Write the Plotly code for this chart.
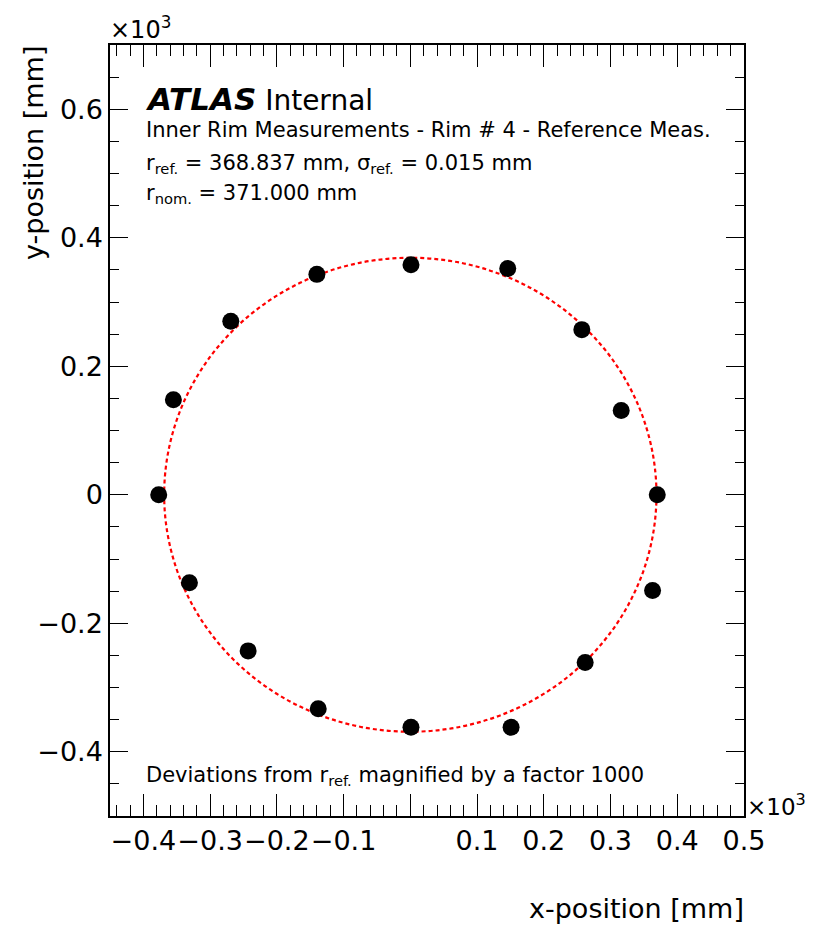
import plotly.graph_objects as go

# ---- data (mm) ----
x_pos = [370, 316, 257, 146, 1, -140, -269, -355, -377, -331, -243, -138, 1, 151, 262, 363]
y_pos = [0, 131, 257, 352, 358, 343, 270, 148, 0, -137, -243, -333, -362, -362, -261, -149]
r_ref = 368.837  # mm

x_tick_values = [-400, -300, -200, -100, 0, 100, 200, 300, 400, 500]
x_tick_labels = ["\u22120.4", "\u22120.3", "\u22120.2", "\u22120.1", "", "0.1", "0.2", "0.3", "0.4", "0.5"]
y_tick_values = [-400, -200, 0, 200, 400, 600]
y_tick_labels = ["\u22120.4", "\u22120.2", "0", "0.2", "0.4", "0.6"]

FONT = "DejaVu Sans"
W, H = 815, 927
L, R, T, B = 110, 71, 45, 111
PW, PH = W - L - R, H - T - B


def px_x(px):
    return (px - L) / PW


def px_y(py):
    return (H - B - py) / PH


fig = go.Figure()
fig.add_trace(go.Scatter(
    x=x_pos, y=y_pos, mode="markers",
    marker=dict(color="black", size=17, line=dict(width=0)),
    showlegend=False, hoverinfo="skip",
))

fig.add_shape(type="circle", xref="x", yref="y",
              x0=-r_ref, y0=-r_ref, x1=r_ref, y1=r_ref,
              line=dict(color="#ff0000", width=2.2, dash="4px,3px"),
              layer="below")

axis_common = dict(
    showgrid=False, zeroline=False, showline=True, linecolor="black", linewidth=1.5,
    mirror="ticks", ticks="inside", tickcolor="black", tickwidth=1,
    tickfont=dict(family=FONT, size=27, color="black"), automargin=False, tickangle=0,
)

fig.update_xaxes(
    range=[-450, 500], tickmode="array", tickvals=x_tick_values, ticktext=x_tick_labels,
    ticklen=22,
    minor=dict(tickmode="linear", tick0=0, dtick=20, ticks="inside", ticklen=11,
               tickcolor="black", tickwidth=1),
    **axis_common,
)
fig.update_yaxes(
    range=[-500, 700], tickmode="array", tickvals=y_tick_values, ticktext=y_tick_labels,
    ticklen=18,
    minor=dict(tickmode="linear", tick0=0, dtick=50, ticks="inside", ticklen=9,
               tickcolor="black", tickwidth=1),
    **axis_common,
)

ann = []
ann.append(dict(text="<b><i><span style='font-size:31px'>ATLAS</span></i></b> Internal", x=px_x(143), y=px_y(99),
                xanchor="left", yanchor="middle", font=dict(family=FONT, size=28, color="black")))
ann.append(dict(text="Inner Rim Measurements - Rim # 4 - Reference Meas.", x=px_x(144), y=px_y(130),
                xanchor="left", yanchor="middle", font=dict(family=FONT, size=21, color="black")))
ann.append(dict(text="r<sub>ref.</sub> = 368.837 mm, \u03c3<sub>ref.</sub> = 0.015 mm", x=px_x(144), y=px_y(164),
                xanchor="left", yanchor="middle", font=dict(family=FONT, size=21, color="black")))
ann.append(dict(text="r<sub>nom.</sub> = 371.000 mm", x=px_x(144), y=px_y(194),
                xanchor="left", yanchor="middle", font=dict(family=FONT, size=21, color="black")))
ann.append(dict(text="Deviations from r<sub>ref.</sub> magnified by a factor 1000", x=px_x(144), y=px_y(776),
                xanchor="left", yanchor="middle", font=dict(family=FONT, size=21, color="black")))
ann.append(dict(text="\u00d710<sup>3</sup>", x=px_x(108), y=px_y(46),
                xanchor="left", yanchor="bottom", font=dict(family=FONT, size=24, color="black")))
ann.append(dict(text="\u00d710<sup>3</sup>", x=px_x(745), y=px_y(822),
                xanchor="left", yanchor="bottom", font=dict(family=FONT, size=23, color="black")))
ann.append(dict(text="y-position [mm]", x=px_x(33), y=px_y(44), textangle=-90,
                xanchor="center", yanchor="top", font=dict(family=FONT, size=27, color="black")))
ann.append(dict(text="x-position [mm]", x=px_x(746), y=px_y(908),
                xanchor="right", yanchor="middle", font=dict(family=FONT, size=27, color="black")))
for a in ann:
    a.update(xref="paper", yref="paper", showarrow=False)
fig.update_layout(annotations=ann)

fig.update_layout(
    width=W, height=H,
    margin=dict(l=L, r=R, t=T, b=B, pad=0, autoexpand=False),
    paper_bgcolor="white", plot_bgcolor="white",
    font=dict(family=FONT, color="black"),
    showlegend=False,
)

fig.write_html(
    "out.html",
    config={"displayModeBar": False},
    post_script="document.body.style.margin='0';document.body.style.padding='0';document.documentElement.style.overflow='hidden';",
)
